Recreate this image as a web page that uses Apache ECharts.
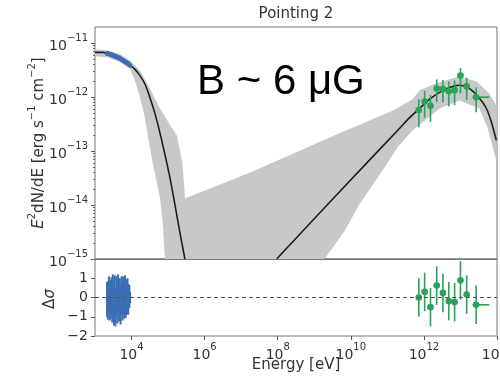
<!DOCTYPE html>
<html>
<head>
<meta charset="utf-8">
<script src="https://cdn.jsdelivr.net/npm/echarts@6/dist/echarts.min.js"></script>
<style>
  html, body { margin: 0; padding: 0; background: #fff; }
  #chart { width: 500px; height: 380px; }
</style>
</head>
<body>
<div id="chart"></div>
<script>
// All positions are log10(energy / eV) and log10(E^2 dN/dE / erg s^-1 cm^-2)

// Tick exponents
const xTickExps = [4, 6, 8, 10, 12, 14];
const yTickExps = [-15, -14, -13, -12, -11];
const residTicks = [-2, -1, 0, 1];

// Synchrotron model curve
const syncLogE = [3.00, 3.22, 3.41, 3.68, 3.96, 4.09, 4.23, 4.37, 4.50, 4.64, 4.78, 4.91, 5.05, 5.19, 5.32, 5.46];
const syncLogF = [-11.17, -11.17, -11.20, -11.28, -11.41, -11.48, -11.60, -11.76, -12.00, -12.30, -12.67, -13.05, -13.49, -14.00, -14.50, -15.00];

// Inverse-Compton model curve
const icLogE = [7.97, 9.64, 11.33, 11.61, 11.88, 12.15, 12.43, 12.70, 12.97, 13.25, 13.52, 13.71, 13.85, 13.98];
const icLogF = [-15.00, -13.79, -12.58, -12.38, -12.21, -12.04, -11.91, -11.82, -11.78, -11.84, -12.02, -12.21, -12.47, -12.80];

// Model uncertainty band: upper and lower envelopes
const bandUpperLogE = [3.00, 3.33, 3.68, 3.96, 4.23, 4.50, 4.78, 5.05, 5.24, 5.38, 5.43, 5.46, 7.23, 9.69, 11.14, 11.69, 11.88, 12.34, 12.97, 13.44, 13.79, 13.98];
const bandUpperLogF = [-11.11, -11.13, -11.20, -11.32, -11.50, -11.84, -12.21, -12.51, -12.71, -13.18, -13.55, -13.88, -13.40, -12.67, -12.25, -12.04, -11.87, -11.74, -11.61, -11.71, -11.93, -12.15];
const bandLowerLogE = [3.00, 3.33, 3.68, 3.96, 4.09, 4.23, 4.34, 4.42, 4.58, 4.78, 4.86, 4.91, 9.28, 9.83, 10.24, 10.87, 11.28, 11.69, 12.43, 12.97, 13.52, 13.74, 13.87, 13.98];
const bandLowerLogF = [-11.24, -11.26, -11.35, -11.48, -11.69, -12.00, -12.30, -12.62, -13.23, -13.87, -14.39, -15.00, -15.00, -14.48, -13.98, -13.36, -12.93, -12.62, -12.21, -12.06, -12.21, -12.56, -12.90, -13.18];

// X-ray spectrum
const xrayLogE = [3.33, 3.35, 3.38, 3.40, 3.42, 3.45, 3.47, 3.49, 3.52, 3.54, 3.56, 3.59, 3.61, 3.63, 3.66, 3.68, 3.70, 3.73, 3.75, 3.77, 3.80, 3.82, 3.84, 3.87, 3.89, 3.91, 3.94, 3.96];
const xrayLogF = [-11.19, -11.19, -11.20, -11.20, -11.21, -11.21, -11.22, -11.23, -11.23, -11.24, -11.25, -11.25, -11.26, -11.27, -11.27, -11.28, -11.29, -11.30, -11.31, -11.32, -11.33, -11.34, -11.35, -11.36, -11.37, -11.38, -11.40, -11.41];
const xrayErr = [0.04, 0.04, 0.04, 0.04, 0.04, 0.04, 0.04, 0.04, 0.04, 0.04, 0.04, 0.04, 0.04, 0.04, 0.04, 0.04, 0.04, 0.04, 0.04, 0.04, 0.04, 0.04, 0.04, 0.04, 0.04, 0.04, 0.04, 0.04];
const xrayResid = [-0.1, -0.15, 0.1, -0.2, -0.1, 0.05, -0.3, 0.2, -0.45, 0.15, -0.5, 0.1, -0.35, 0.2, -0.25, 0.0, -0.4, 0.1, -0.2, 0.1, -0.1, 0.15, -0.05, 0.0, 0.1, -0.1, 0.05, 0.0];
const xrayResidErr = [0.9, 1.0, 1.0, 1.0, 1.0, 1.0, 1.0, 1.0, 1.0, 1.0, 1.0, 1.0, 1.0, 1.0, 1.0, 1.0, 1.0, 1.0, 1.0, 1.0, 1.0, 1.0, 1.0, 0.9, 0.9, 0.8, 0.6, 0.3];

// TeV gamma-ray spectrum
const tevLogE = [11.86, 12.02, 12.18, 12.35, 12.52, 12.68, 12.84, 13.00, 13.17, 13.43];
const tevLogF = [-12.24, -12.08, -12.16, -11.84, -11.85, -11.89, -11.87, -11.60, -11.80, -12.00];
const tevErrHi = [0.20, 0.20, 0.20, 0.17, 0.17, 0.18, 0.18, 0.14, 0.16, 0.18];
const tevErrLo = [0.32, 0.30, 0.30, 0.25, 0.25, 0.28, 0.28, 0.33, 0.25, 0.28];
const tevXErrLo = [0.08, 0.08, 0.08, 0.08, 0.08, 0.08, 0.08, 0.08, 0.08, 0.10];
const tevXErrHi = [0.08, 0.08, 0.08, 0.08, 0.08, 0.08, 0.08, 0.08, 0.08, 0.36];
const tevResid = [0.0, 0.29, -0.5, 0.62, 0.24, -0.19, -0.24, 0.89, 0.15, -0.38];
const tevResidErr = [1, 1, 1, 1, 1, 1, 1, 1, 1, 1];

const BLUE = '#3b6db4';
const GREEN = '#27a35a';
const FONT = 'DejaVu Sans';
const TEXT = '#333';

const zip = (a, b) => a.map((v, i) => [v, b[i]]);

// Minor ticks at 2..9 x 10^n on the flux axis
const yMax = Math.log10(2e-11);
const yMinorTicks = [];
yTickExps.forEach(n => {
  for (let k = 2; k <= 9; k++) {
    const v = n + Math.log10(k);
    if (v < yMax) yMinorTicks.push(v);
  }
});

function powLabel(v) {
  const s = v < 0 ? '\u2212' + Math.abs(v) : String(v);
  return '{b|10}{s|' + s + '}';
}
const powRich = {
  b: { fontSize: 14, fontFamily: FONT, color: TEXT, lineHeight: 20, verticalAlign: 'bottom' },
  s: { fontSize: 10, fontFamily: FONT, color: TEXT, lineHeight: 10, verticalAlign: 'top' }
};

function errorBars(color, markerR, lineW) {
  return function (params, api) {
    const x = api.value(0), y = api.value(1);
    const c = api.coord([x, y]);
    const lo = api.coord([x, api.value(2)]);
    const hi = api.coord([x, api.value(3)]);
    const l = api.coord([api.value(4), y]);
    const r = api.coord([api.value(5), y]);
    const children = [
      { type: 'line', shape: { x1: c[0], y1: lo[1], x2: c[0], y2: hi[1] }, style: { stroke: color, lineWidth: lineW } }
    ];
    if (r[0] - l[0] > 0.5) {
      children.push({ type: 'line', shape: { x1: l[0], y1: c[1], x2: r[0], y2: c[1] }, style: { stroke: color, lineWidth: lineW } });
    }
    if (markerR > 0) {
      children.push({ type: 'circle', shape: { cx: c[0], cy: c[1], r: markerR }, style: { fill: color } });
    }
    return { type: 'group', children };
  };
}

const xrayMain = xrayLogE.map((e, i) => [e, xrayLogF[i], xrayLogF[i] - xrayErr[i], xrayLogF[i] + xrayErr[i], e, e]);
const xrayRes = xrayLogE.map((e, i) => [e, xrayResid[i], xrayResid[i] - xrayResidErr[i], xrayResid[i] + xrayResidErr[i], e, e]);
const tevMain = tevLogE.map((e, i) => [e, tevLogF[i], tevLogF[i] - tevErrLo[i], tevLogF[i] + tevErrHi[i], e - tevXErrLo[i], e + tevXErrHi[i]]);
const tevRes = tevLogE.map((e, i) => [e, tevResid[i], tevResid[i] - tevResidErr[i], tevResid[i] + tevResidErr[i], e - tevXErrLo[i], e + tevXErrHi[i]]);

const chart = echarts.init(document.getElementById('chart'), null, { renderer: 'canvas' });

const axisCommon = {
  splitLine: { show: false },
  axisLine: { show: false, onZero: false }
};

chart.setOption({
  animation: false,
  backgroundColor: '#fff',
  grid: [
    { left: 95, top: 27, width: 402, height: 232, show: true, borderColor: '#777', borderWidth: 1, backgroundColor: 'transparent', containLabel: false, outerBoundsMode: 'none' },
    { left: 95, top: 259, width: 402, height: 77, show: true, borderColor: '#777', borderWidth: 1, backgroundColor: 'transparent', containLabel: false, outerBoundsMode: 'none' }
  ],
  xAxis: [
    {
      type: 'value', gridIndex: 0, min: 3, max: 14, z: 5,
      splitLine: { show: false },
      axisLine: { show: true, onZero: false, lineStyle: { color: '#777', width: 1 } },
      axisTick: { show: false }, axisLabel: { show: false }
    },
    {
      type: 'value', gridIndex: 1, min: 3, max: 14, ...axisCommon,
      axisTick: { show: true, customValues: xTickExps, length: 4, lineStyle: { color: '#555' } },
      axisLabel: { show: true, customValues: xTickExps, margin: 6, formatter: powLabel, rich: powRich }
    }
  ],
  yAxis: [
    {
      type: 'value', gridIndex: 0, min: -15, max: yMax, position: 'left', ...axisCommon,
      axisTick: { show: true, customValues: yTickExps, length: 4, lineStyle: { color: '#555' } },
      axisLabel: { show: true, customValues: yTickExps, margin: 7, formatter: powLabel, rich: powRich }
    },
    {
      type: 'value', gridIndex: 0, min: -15, max: yMax, position: 'left', ...axisCommon,
      axisTick: { show: true, customValues: yMinorTicks, length: 2, lineStyle: { color: '#666' } },
      axisLabel: { show: false }
    },
    {
      type: 'value', gridIndex: 1, min: -2, max: 2, position: 'left', ...axisCommon,
      axisTick: { show: true, customValues: residTicks, length: 4, lineStyle: { color: '#555' } },
      axisLabel: {
        show: true, customValues: residTicks, margin: 7, fontSize: 14, fontFamily: FONT, color: TEXT,
        formatter: v => (v < 0 ? '\u2212' + Math.abs(v) : String(v))
      }
    }
  ],
  series: [
    {
      // uncertainty band of the model
      type: 'custom', xAxisIndex: 0, yAxisIndex: 0, z: 1, silent: true,
      data: [[bandUpperLogE[0], bandUpperLogF[0]]],
      renderItem: function (params, api) {
        const pts = [];
        bandUpperLogE.forEach((e, i) => pts.push(api.coord([e, bandUpperLogF[i]])));
        for (let i = bandLowerLogE.length - 1; i >= 0; i--) {
          pts.push(api.coord([bandLowerLogE[i], bandLowerLogF[i]]));
        }
        return { type: 'polygon', shape: { points: pts }, style: { fill: '#c8c8c8' } };
      }
    },
    {
      type: 'line', xAxisIndex: 0, yAxisIndex: 0, z: 3, silent: true,
      data: zip(syncLogE, syncLogF), showSymbol: false, smooth: 0.3,
      lineStyle: { color: '#1c1c1c', width: 1.6 }
    },
    {
      type: 'line', xAxisIndex: 0, yAxisIndex: 0, z: 3, silent: true,
      data: zip(icLogE, icLogF), showSymbol: false, smooth: 0.3,
      lineStyle: { color: '#1c1c1c', width: 1.6 }
    },
    {
      type: 'custom', xAxisIndex: 0, yAxisIndex: 0, z: 4, silent: true,
      encode: { x: 0, y: 1 }, data: xrayMain,
      renderItem: errorBars(BLUE, 2.2, 2)
    },
    {
      type: 'custom', xAxisIndex: 0, yAxisIndex: 0, z: 4, silent: true,
      encode: { x: 0, y: 1 }, data: tevMain,
      renderItem: errorBars(GREEN, 3.3, 1.6)
    },
    {
      type: 'custom', xAxisIndex: 1, yAxisIndex: 2, z: 4, silent: true,
      encode: { x: 0, y: 1 }, data: xrayRes,
      renderItem: errorBars(BLUE, 1.4, 2),
      markLine: {
        silent: true, symbol: 'none', label: { show: false },
        lineStyle: { color: '#555', type: [4, 3], width: 1.1 },
        data: [{ yAxis: 0 }]
      }
    },
    {
      type: 'custom', xAxisIndex: 1, yAxisIndex: 2, z: 4, silent: true,
      encode: { x: 0, y: 1 }, data: tevRes,
      renderItem: errorBars(GREEN, 3.3, 1.6)
    }
  ],
  graphic: [
    {
      type: 'text', x: 296, y: 14, z: 10,
      style: { text: 'Pointing 2', fontSize: 15, fontFamily: FONT, fill: TEXT, align: 'center', verticalAlign: 'middle', textAlign: 'center', textVerticalAlign: 'middle' }
    },
    {
      type: 'text', x: 197, y: 82, z: 10,
      style: { text: 'B ~ 6 \u03bcG', fontSize: 42, fontFamily: 'Liberation Sans', fill: '#000', align: 'left', verticalAlign: 'middle', textAlign: 'left', textVerticalAlign: 'middle' }
    },
    {
      type: 'text', x: 37, y: 143, rotation: Math.PI / 2, z: 10,
      style: {
        text: '{i|E}{s|2}{n|dN/dE [erg s}{s|\u22121}{n| cm}{s|\u22122}{n|]}',
        align: 'center', verticalAlign: 'middle', textAlign: 'center', textVerticalAlign: 'middle',
        rich: {
          i: { fontSize: 15, fontFamily: FONT, fontStyle: 'italic', fill: TEXT, color: TEXT, lineHeight: 20, verticalAlign: 'bottom' },
          n: { fontSize: 15, fontFamily: FONT, fill: TEXT, color: TEXT, lineHeight: 20, verticalAlign: 'bottom' },
          s: { fontSize: 10, fontFamily: FONT, fill: TEXT, color: TEXT, lineHeight: 10, verticalAlign: 'top' }
        }
      }
    },
    {
      type: 'text', x: 50, y: 299, rotation: Math.PI / 2, z: 10,
      style: {
        text: '{n|\u0394}{i|\u03c3}',
        align: 'center', verticalAlign: 'middle', textAlign: 'center', textVerticalAlign: 'middle',
        rich: {
          n: { fontSize: 15, fontFamily: FONT, fill: TEXT, color: TEXT },
          i: { fontSize: 15, fontFamily: FONT, fontStyle: 'italic', fill: TEXT, color: TEXT }
        }
      }
    },
    {
      type: 'text', x: 296, y: 365, z: 10,
      style: { text: 'Energy [eV]', fontSize: 15, fontFamily: FONT, fill: TEXT, align: 'center', verticalAlign: 'middle', textAlign: 'center', textVerticalAlign: 'middle' }
    }
  ]
});
</script>
</body>
</html>
